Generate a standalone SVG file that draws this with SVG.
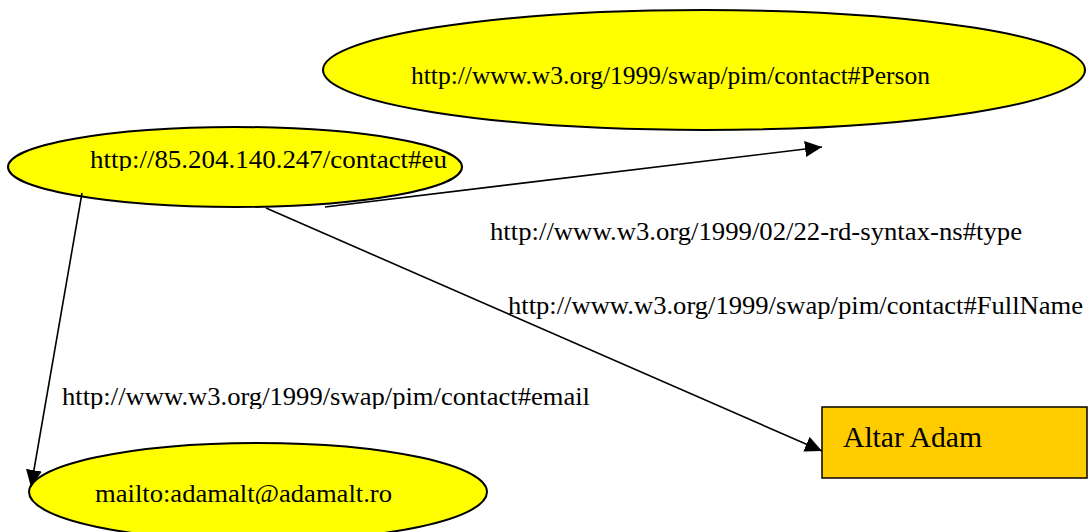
<svg xmlns="http://www.w3.org/2000/svg" width="1089" height="532" viewBox="0 0 1089 532">
  <style>
    .res { fill: #ffff00; stroke: #000; stroke-width: 2; }
    .lit { fill: #ffcc00; stroke: #000; stroke-width: 1.5; }
    .edge { fill: none; stroke: #000; stroke-width: 1.6; marker-end: url(#head); }
    text { font-family: "Liberation Serif", "Times New Roman", serif; font-size: 26px; fill: #000; }
  </style>
  <defs>
    <marker id="head" markerUnits="userSpaceOnUse" markerWidth="18" markerHeight="16" refX="17" refY="8" orient="auto">
      <path d="M0,0 L17,8 L0,16 Z" fill="#000"/>
    </marker>
    <clipPath id="clipEu"><rect x="0" y="130" width="480" height="41"/></clipPath>
    <clipPath id="clipMail"><rect x="0" y="470" width="500" height="34"/></clipPath>
    <clipPath id="clipEmail"><rect x="0" y="370" width="620" height="39"/></clipPath>
  </defs>

  <!-- resource nodes -->
  <g id="node-person">
    <ellipse class="res" cx="704" cy="70" rx="381" ry="60"/>
    <text x="411" y="84" textLength="519" lengthAdjust="spacingAndGlyphs">http://www.w3.org/1999/swap/pim/contact#Person</text>
  </g>
  <g id="node-eu">
    <ellipse class="res" cx="235" cy="167" rx="227" ry="40"/>
    <text x="90" y="168" textLength="357" lengthAdjust="spacingAndGlyphs" clip-path="url(#clipEu)">http://85.204.140.247/contact#eu</text>
  </g>
  <g id="node-mail">
    <ellipse class="res" cx="258" cy="492" rx="229" ry="49"/>
    <text x="95" y="502" textLength="297" lengthAdjust="spacingAndGlyphs" clip-path="url(#clipMail)">mailto:adamalt@adamalt.ro</text>
  </g>
  <g id="node-name">
    <rect class="lit" x="822" y="407" width="265" height="71"/>
    <text x="843" y="447" textLength="139" lengthAdjust="spacingAndGlyphs" style="font-size:30px">Altar Adam</text>
  </g>

  <!-- property arcs -->
  <g id="edges">
    <line class="edge" x1="325" y1="207" x2="822" y2="147"/>
    <line class="edge" x1="266" y1="208" x2="822" y2="451"/>
    <line class="edge" x1="82" y1="193" x2="31" y2="487"/>
  </g>

  <!-- property labels -->
  <g id="labels">
    <text x="490" y="240" textLength="532" lengthAdjust="spacingAndGlyphs">http://www.w3.org/1999/02/22-rd-syntax-ns#type</text>
    <text x="508" y="314" textLength="575" lengthAdjust="spacingAndGlyphs">http://www.w3.org/1999/swap/pim/contact#FullName</text>
    <text x="62" y="405" textLength="528" lengthAdjust="spacingAndGlyphs" clip-path="url(#clipEmail)">http://www.w3.org/1999/swap/pim/contact#email</text>
  </g>
</svg>
